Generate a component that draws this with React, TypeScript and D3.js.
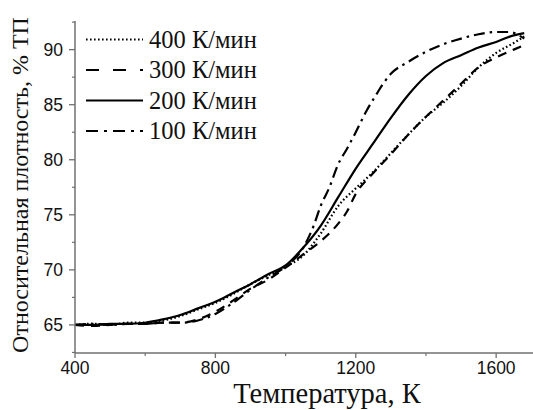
import React from "react";
import * as d3 from "d3";

const temps400 = [400, 450, 500, 550, 600, 650, 700, 750, 800, 850, 900, 950, 1000, 1050, 1100, 1150, 1200, 1250, 1300, 1350, 1400, 1450, 1500, 1550, 1600, 1650, 1680];
const vals400 = [65.0, 65.1, 65.0, 65.2, 65.2, 65.4, 65.8, 66.4, 67.0, 67.8, 68.7, 69.5, 70.3, 71.3, 73.3, 75.8, 77.4, 78.9, 80.6, 82.3, 83.9, 85.2, 86.7, 88.4, 89.7, 90.6, 91.2];

const temps300 = [400, 450, 500, 550, 600, 650, 700, 750, 800, 850, 900, 950, 1000, 1050, 1100, 1150, 1175, 1200, 1250, 1300, 1350, 1400, 1450, 1500, 1550, 1600, 1650, 1680];
const vals300 = [65.0, 64.9, 65.0, 65.1, 65.1, 65.2, 65.2, 65.5, 66.2, 67.2, 68.3, 69.1, 70.2, 71.4, 72.6, 74.2, 75.3, 76.9, 78.8, 80.5, 82.3, 83.9, 85.4, 86.9, 88.4, 89.3, 90.0, 90.4];

const temps200 = [400, 450, 500, 550, 600, 650, 700, 750, 800, 850, 900, 950, 1000, 1050, 1100, 1150, 1200, 1250, 1300, 1350, 1400, 1450, 1500, 1550, 1600, 1650, 1680];
const vals200 = [65.0, 65.0, 65.1, 65.1, 65.2, 65.5, 65.9, 66.5, 67.1, 67.9, 68.7, 69.6, 70.4, 72.0, 74.0, 76.6, 79.2, 81.5, 83.8, 85.9, 87.6, 88.8, 89.5, 90.2, 90.7, 91.3, 91.5];

const temps100 = [400, 450, 500, 550, 600, 650, 700, 750, 800, 850, 900, 950, 1000, 1050, 1080, 1100, 1125, 1150, 1175, 1200, 1230, 1260, 1280, 1300, 1350, 1400, 1450, 1500, 1550, 1600, 1640, 1670, 1680];
const vals100 = [65.0, 65.1, 65.0, 65.1, 65.1, 65.2, 65.2, 65.4, 66.0, 67.0, 68.2, 69.3, 70.3, 72.0, 74.0, 75.8, 77.5, 79.6, 81.0, 82.5, 84.4, 86.0, 87.0, 87.8, 88.9, 89.8, 90.5, 91.0, 91.4, 91.6, 91.6, 91.2, 91.0];

const seriesLabels = ["400 К/мин", "300 К/мин", "200 К/мин", "100 К/мин"];
const xMajorTicks = [400, 800, 1200, 1600];
const xMinorTicks = [600, 1000, 1400];
const yMajorTicks = [65, 70, 75, 80, 85, 90];
const yMinorTicks = [62.5, 67.5, 72.5, 77.5, 82.5, 87.5, 92.5];
const xTitle = "Температура, К";
const yTitle = "Относительная плотность, % ТП";

const W = 533;
const H = 410;
const left = 75;
const right = 533;
const top = 21;
const bottom = 353;

export default function App() {
  const x = d3.scaleLinear().domain([400, 1705]).range([left, right]);
  const y = d3.scaleLinear().domain([62.45, 92.6]).range([bottom, top]);
  const line = d3
    .line<[number, number]>()
    .x((d) => x(d[0]))
    .y((d) => y(d[1]))
    .curve(d3.curveMonotoneX);

  const series = [
    { t: temps400, v: vals400, dash: "1.6,2.4" },
    { t: temps300, v: vals300, dash: "9,7" },
    { t: temps200, v: vals200, dash: "" },
    { t: temps100, v: vals100, dash: "11,5,2.5,5" },
  ];
  const legendDash = ["1.6,2.4", "13,14", "", "12,6,3,6"];

  const axisColor = "#707070";
  const sans = "Liberation Sans, Arial, sans-serif";
  const serif = "Liberation Serif, Times New Roman, serif";

  return (
    <svg width={W} height={H} style={{ position: "absolute", left: 0, top: 0, background: "#fff" }}>
      {series.map((s, i) => (
        <path
          key={i}
          d={line(s.t.map((t, j) => [t, s.v[j]] as [number, number])) || ""}
          fill="none"
          stroke="#000"
          strokeWidth={2.2}
          strokeDasharray={s.dash || undefined}
          strokeLinejoin="round"
        />
      ))}
      <line x1={left} x2={left} y1={top} y2={bottom} stroke={axisColor} strokeWidth={1.5} />
      <line x1={left} x2={right} y1={bottom} y2={bottom} stroke={axisColor} strokeWidth={1.5} />
      {yMajorTicks.map((t) => (
        <g key={"ym" + t}>
          <line x1={left - 6} x2={left} y1={y(t)} y2={y(t)} stroke={axisColor} strokeWidth={1.3} />
          <text x={63} y={y(t) + 6.5} textAnchor="end" fontFamily={sans} fontSize={17.5} fill="#111">
            {t}
          </text>
        </g>
      ))}
      {yMinorTicks.map((t) => (
        <line key={"yn" + t} x1={left - 3} x2={left} y1={y(t)} y2={y(t)} stroke={axisColor} strokeWidth={1.2} />
      ))}
      {xMajorTicks.map((t) => (
        <g key={"xm" + t}>
          <line x1={x(t)} x2={x(t)} y1={bottom} y2={bottom + 5} stroke={axisColor} strokeWidth={1.3} />
          <text x={x(t)} y={374} textAnchor="middle" fontFamily={sans} fontSize={17.5} fill="#111">
            {t}
          </text>
        </g>
      ))}
      {xMinorTicks.map((t) => (
        <line key={"xn" + t} x1={x(t)} x2={x(t)} y1={bottom} y2={bottom + 3} stroke={axisColor} strokeWidth={1.2} />
      ))}
      {seriesLabels.map((lab, i) => {
        const ly = 39.5 + i * 30.5;
        return (
          <g key={lab}>
            <line x1={86} x2={143} y1={ly} y2={ly} stroke="#000" strokeWidth={2.2} strokeDasharray={legendDash[i] || undefined} />
            <text x={149} y={ly + 8} fontFamily={serif} fontSize={24.5} fill="#111">
              {lab}
            </text>
          </g>
        );
      })}
      <text x={327} y={403} textAnchor="middle" fontFamily={serif} fontSize={28.5} fill="#111">
        {xTitle}
      </text>
      <text
        transform={`translate(28, 185) rotate(-90)`}
        textAnchor="middle"
        fontFamily={serif}
        fontSize={24}
        fill="#111"
      >
        {yTitle}
      </text>
    </svg>
  );
}
